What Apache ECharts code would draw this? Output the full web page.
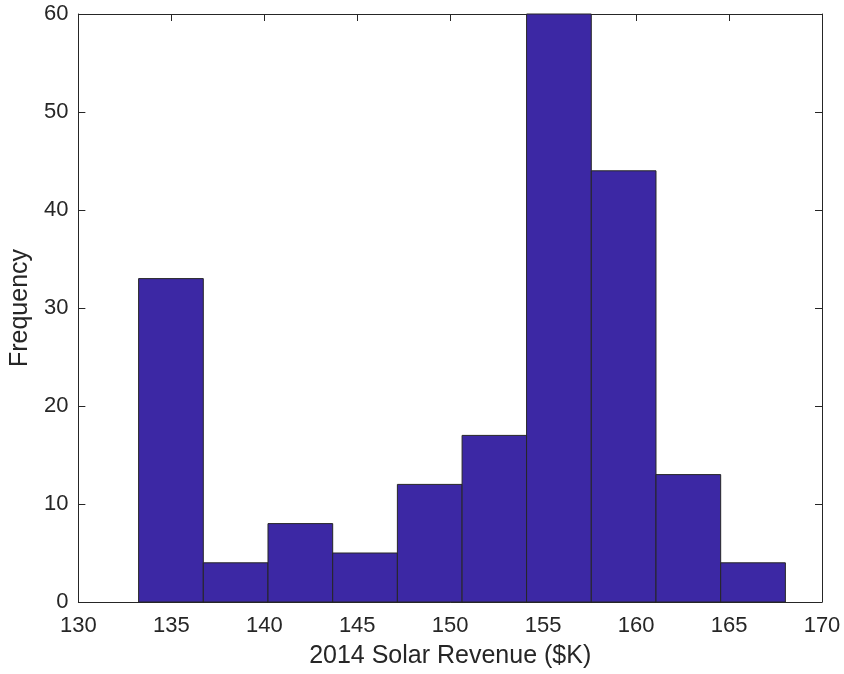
<!DOCTYPE html>
<html>
<head>
<meta charset="utf-8">
<script src="https://cdn.jsdelivr.net/npm/echarts@6/dist/echarts.min.js"></script>
<style>
html,body{margin:0;padding:0;background:#fff;}
#chart{width:844px;height:674px;}
</style>
</head>
<body>
<div id="chart"></div>
<script>
// Histogram bin edges (x, $K) and counts
var binEdges = [133.24, 136.72, 140.20, 143.68, 147.16, 150.64, 154.11, 157.59, 161.07, 164.55, 168.03];
var counts = [33, 4, 8, 5, 12, 17, 60, 44, 13, 4];
var xTicks = [130, 135, 140, 145, 150, 155, 160, 165, 170];
var yTicks = [0, 10, 20, 30, 40, 50, 60];
var xLabel = '2014 Solar Revenue ($K)';
var yLabel = 'Frequency';

var data = counts.map(function (c, i) { return [binEdges[i], binEdges[i + 1], c]; });

var font = '"Liberation Sans", Arial, Helvetica, sans-serif';
var ink = '#262626';

var chart = echarts.init(document.getElementById('chart'), null, {renderer: 'canvas'});

function axisCommon(extra) {
  return Object.assign({
    axisLine: {show: true, onZero: false, lineStyle: {color: ink, width: 1}},
    axisTick: {show: true, inside: true, length: 7, lineStyle: {color: ink, width: 1}},
    splitLine: {show: false}
  }, extra);
}

chart.setOption({
  animation: false,
  backgroundColor: '#fff',
  grid: {left: 78, right: 22, top: 14, bottom: 72, containLabel: false},
  xAxis: [
    axisCommon({
      type: 'value', position: 'bottom',
      min: xTicks[0], max: xTicks[xTicks.length - 1], interval: 5,
      name: xLabel, nameLocation: 'middle', nameGap: 42,
      nameTextStyle: {fontFamily: font, fontSize: 25, color: ink},
      axisLabel: {fontFamily: font, fontSize: 22, color: ink, margin: 13}
    }),
    axisCommon({
      type: 'value', position: 'top',
      min: xTicks[0], max: xTicks[xTicks.length - 1], interval: 5,
      axisLabel: {show: false}
    })
  ],
  yAxis: [
    axisCommon({
      type: 'value', position: 'left',
      min: yTicks[0], max: yTicks[yTicks.length - 1], interval: 10,
      name: yLabel, nameLocation: 'middle', nameGap: 41,
      nameTextStyle: {fontFamily: font, fontSize: 25, color: ink},
      axisLabel: {fontFamily: font, fontSize: 22, color: ink, margin: 10}
    }),
    axisCommon({
      type: 'value', position: 'right',
      min: yTicks[0], max: yTicks[yTicks.length - 1], interval: 10,
      axisLabel: {show: false}
    })
  ],
  series: [{
    type: 'custom',
    xAxisIndex: 0, yAxisIndex: 0,
    data: data,
    renderItem: function (params, api) {
      var p0 = api.coord([api.value(0), 0]);
      var p1 = api.coord([api.value(1), api.value(2)]);
      return {
        type: 'rect',
        shape: {x: p0[0], y: p1[1], width: p1[0] - p0[0], height: p0[1] - p1[1]},
        style: {fill: '#3C28A4', stroke: '#262626', lineWidth: 1}
      };
    },
    encode: {x: [0, 1], y: 2}
  }]
});
</script>
</body>
</html>
